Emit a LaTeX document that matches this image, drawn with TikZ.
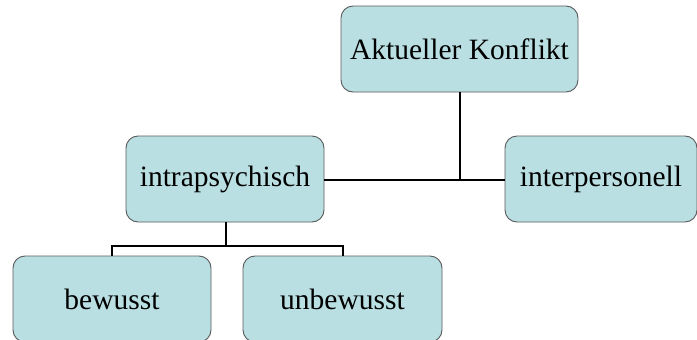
\documentclass[tikz,border=0pt]{standalone}
\usepackage{fontspec}
\setmainfont{Liberation Serif}
\definecolor{boxfill}{HTML}{B9DFE3}
\definecolor{boxline}{HTML}{5A5A5A}
\begin{document}
\begin{tikzpicture}[x=1pt,y=-1pt,
  box/.style={draw=boxline,line width=0.9pt,fill=boxfill,rounded corners=12pt,
    minimum height=86pt,inner sep=0pt,font=\fontsize{29.5}{35}\selectfont},
  conn/.style={line width=2pt,black}]
\useasboundingbox (0,0) rectangle (697,340);
\clip (0,0) rectangle (697,340);
\node[box,minimum width=237pt] (akt) at (459.5,49) {Aktueller Konflikt};
\node[box,minimum width=198pt] (intra) at (225,179) {intrapsychisch};
\node[box,minimum width=192pt] (inter) at (601,179) {interpersonell};
\node[box,minimum width=198pt] (bew) at (112,299) {bewusst};
\node[box,minimum width=199pt] (unb) at (342.5,299) {unbewusst};
\coordinate (j1) at (460,180);
\coordinate (j2) at (226,246);
\draw[conn] (akt.south -| j1) -- (j1);
\draw[conn] (intra.east |- j1) -- (inter.west |- j1);
\draw[conn] (intra.south -| j2) -- (j2);
\draw[conn] (bew.north) |- (j2) -| (unb.north);
\end{tikzpicture}
\end{document}
